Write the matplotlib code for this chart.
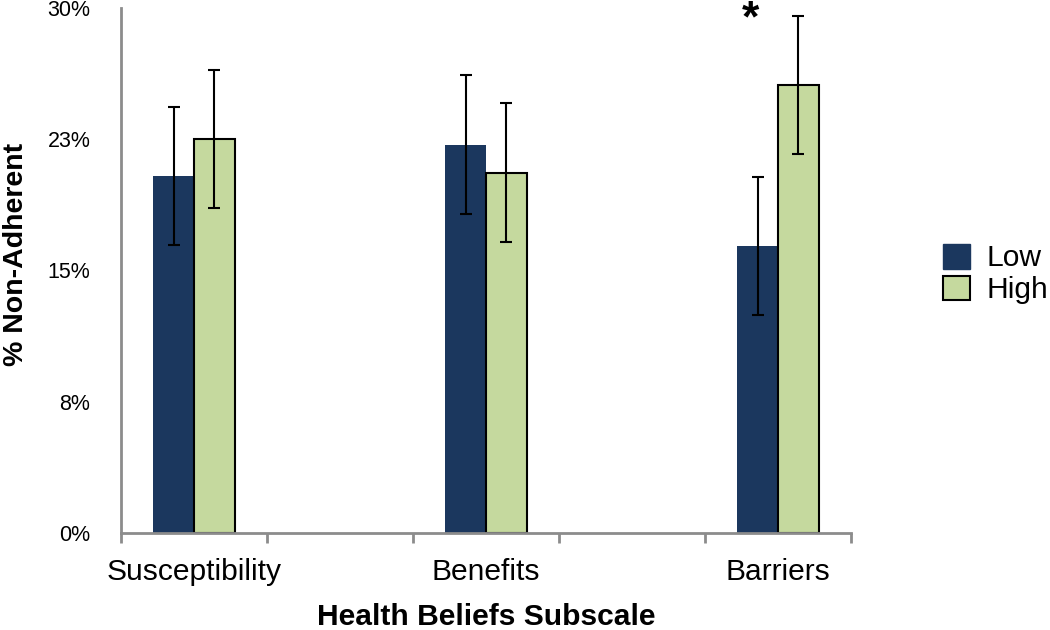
import matplotlib.pyplot as plt
import numpy as np
from matplotlib.patches import Patch

# five slots on the category axis, two of them left empty
categories = ['Susceptibility', '', 'Benefits', '', 'Barriers']
low_vals = [20.4, np.nan, 22.2, np.nan, 16.4]
high_vals = [22.5, np.nan, 20.6, np.nan, 25.6]
low_err = [3.95, np.nan, 3.95, np.nan, 3.95]
high_err = [3.95, np.nan, 3.95, np.nan, 3.95]
y_ticks = [0, 7.5, 15, 22.5, 30]
y_labels = ['0%', '8%', '15%', '23%', '30%']
series_names = ['Low', 'High']

low_color = '#1b375e'
high_color = '#c5d99e'
axis_gray = '#8c8c8c'

fig = plt.figure(figsize=(10.5, 6.3), dpi=100)
ax = fig.add_axes([121 / 1050, 97 / 630, 730 / 1050, 525 / 630])

x = np.arange(len(categories))
w = 0.28
err_kw = dict(ecolor='black', elinewidth=1.5, capsize=4, capthick=1.5)
ax.bar(x - w / 2, low_vals, w, color=low_color, yerr=low_err,
       error_kw=err_kw, zorder=2)
ax.bar(x + w / 2, high_vals, w, color=high_color, edgecolor='black',
       linewidth=1.5, yerr=high_err, error_kw=err_kw, zorder=2)

# significance marker above the Barriers pair
ax.text(x[4] - w / 2 - 0.05, 29.3, '*', ha='center', va='center',
        fontsize=32, fontweight='bold', family='Liberation Sans')

ax.set_xlim(-0.5, len(categories) - 0.5)
ax.set_ylim(0, 30)
ax.set_yticks(y_ticks)
ax.set_yticklabels(y_labels, family='Liberation Sans', fontsize=15.5)
ax.set_xticks(x)
ax.set_xticklabels(categories, family='Liberation Sans', fontsize=21.6)
ax.set_xticks(np.arange(len(categories) + 1) - 0.5, minor=True)
ax.tick_params(axis='x', which='major', length=0, pad=18)
ax.tick_params(axis='x', which='minor', length=7, width=2, color=axis_gray)
ax.tick_params(axis='y', length=0, pad=22)

for side in ['top', 'right']:
    ax.spines[side].set_visible(False)
for side in ['left', 'bottom']:
    ax.spines[side].set_color(axis_gray)
    ax.spines[side].set_linewidth(2)

ax.set_xlabel('Health Beliefs Subscale', family='Liberation Sans',
              fontsize=21.6, fontweight='bold', labelpad=12)
ax.set_ylabel('% Non-Adherent', family='Liberation Sans', fontsize=20.5,
              fontweight='bold', labelpad=13)
ax.yaxis.label.set_y(0.53)

handles = [Patch(facecolor=low_color, edgecolor=low_color),
           Patch(facecolor=high_color, edgecolor='black', linewidth=1.5)]
fig.legend(handles, series_names, loc='center left',
           bbox_to_anchor=(943 / 1050, 1 - 274 / 630), frameon=False,
           prop={'family': 'Liberation Sans', 'size': 21.6},
           handlelength=0.9, handleheight=0.9, handletextpad=0.55,
           labelspacing=0.1, borderpad=0, borderaxespad=0)

fig.savefig('out.png', dpi=100)
